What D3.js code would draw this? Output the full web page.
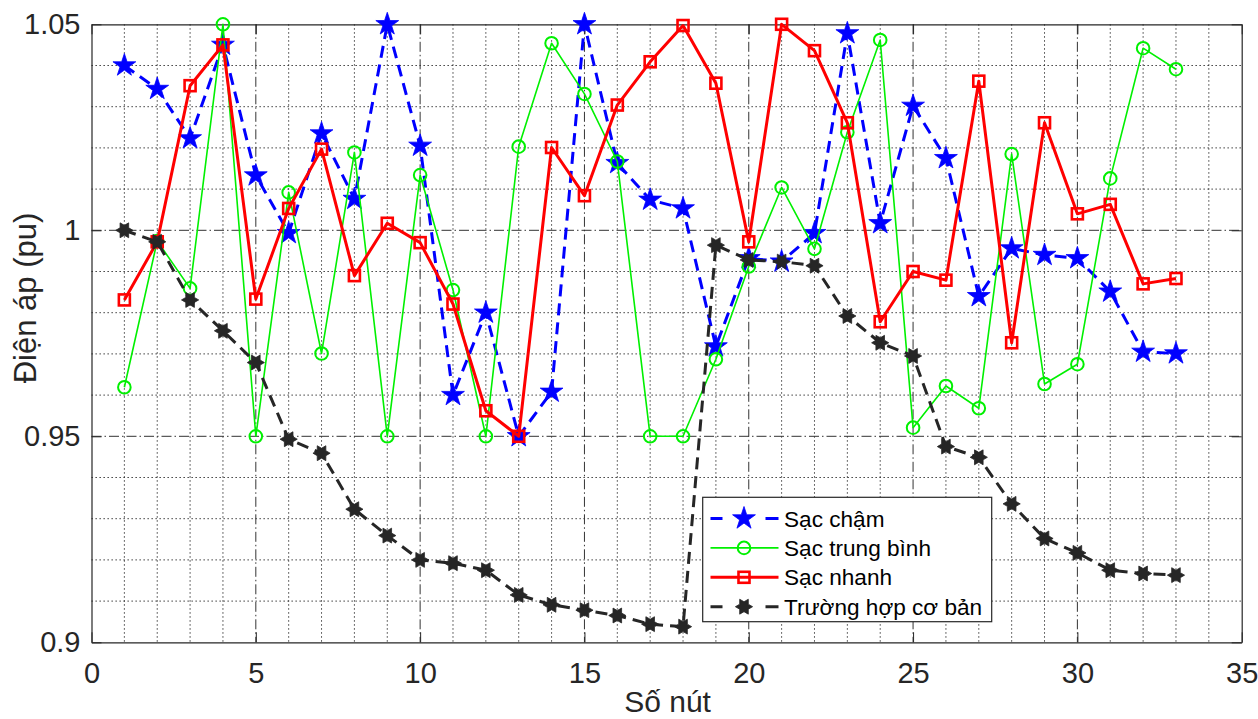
<!DOCTYPE html>
<html>
<head>
<meta charset="utf-8">
<script src="https://cdn.jsdelivr.net/npm/d3@7"></script>
<style>
  html, body { margin: 0; padding: 0; background: #fff; }
  svg { display: block; }
  text { font-family: "Liberation Sans", Arial, Helvetica, sans-serif; fill: #262626; }
</style>
</head>
<body>
<svg id="chart" width="1258" height="719"></svg>
<script>
// Node numbers and bus voltages (pu) for each charging scenario
const nodes = [1,2,3,4,5,6,7,8,9,10,11,12,13,14,15,16,17,18,19,20,21,22,23,24,25,26,27,28,29,30,31,32,33];

const slowCharge = [1.040, 1.0343, 1.0223, 1.045, 1.0133, 0.9993, 1.0235, 1.0076, 1.050, 1.0205,
  0.960, 0.980, 0.950, 0.9608, 1.050, 1.0163, 1.0074, 1.0053, 0.9718, 0.9932,
  0.9924, 0.9993, 1.0478, 1.0017, 1.0302, 1.0175, 0.984, 0.9956, 0.994, 0.9932,
  0.9851, 0.9705, 0.9701];

const mediumCharge = [0.9619, 0.9974, 0.9859, 1.050, 0.950, 1.0092, 0.9701, 1.0189, 0.950, 1.0134,
  0.9855, 0.950, 1.0203, 1.0454, 1.0331, 1.0167, 0.950, 0.950, 0.9687, 0.9912,
  1.0104, 0.9955, 1.0238, 1.0462, 0.9521, 0.9622, 0.9568, 1.0185, 0.9627, 0.9675,
  1.0126, 1.0442, 1.0391];

const fastCharge = [0.9831, 0.9972, 1.0351, 1.045, 0.9833, 1.0053, 1.0197, 0.989, 1.0017, 0.997,
  0.9821, 0.9562, 0.950, 1.0201, 1.0084, 1.0304, 1.0409, 1.0497, 1.0357, 0.9972,
  1.050, 1.0436, 1.0261, 0.9778, 0.990, 0.9879, 1.0362, 0.9727, 1.0261, 1.004,
  1.0063, 0.987, 0.9883];

const baseCase = [1.000, 0.9972, 0.9831, 0.9756, 0.9679, 0.9493, 0.9459, 0.9323, 0.9259, 0.920,
  0.9192, 0.9175, 0.9115, 0.9091, 0.9078, 0.9065, 0.9044, 0.9038, 0.9964, 0.9928,
  0.9924, 0.9914, 0.9792, 0.9727, 0.9695, 0.9475, 0.9449, 0.9336, 0.9252, 0.9217,
  0.9175, 0.9167, 0.9163];

const seriesNames = ["Sạc chậm", "Sạc trung bình", "Sạc nhanh", "Trường hợp cơ bản"];

const xTicks = [0, 5, 10, 15, 20, 25, 30, 35];
const yTicks = [0.9, 0.95, 1, 1.05];
const xMinor = d3.range(0, 36, 1);
const yMinor = d3.range(90, 106, 1).map(v => v / 100);

const xLabel = "Số nút";
const yLabel = "Điện áp (pu)";

// ---- layout ----
const svg = d3.select("#chart");
const plotLeft = 91.5, plotRight = 1241.7, plotTop = 24.3, plotBottom = 642.3;

const x = d3.scaleLinear().domain([0, 35]).range([plotLeft, plotRight]);
const y = d3.scaleLinear().domain([0.9, 1.05]).range([plotBottom, plotTop]);

// ---- marker shapes ----
function starPath(points, rOuter, rInner, startAngle) {
  const p = d3.path();
  for (let i = 0; i < points * 2; i++) {
    const r = i % 2 === 0 ? rOuter : rInner;
    const a = startAngle + i * Math.PI / points;
    const px = r * Math.cos(a), py = r * Math.sin(a);
    if (i === 0) p.moveTo(px, py); else p.lineTo(px, py);
  }
  p.closePath();
  return p.toString();
}
const pentagram = starPath(5, 12, 12 * 0.382, -Math.PI / 2);
const hexagram = starPath(6, 8.6, 8.6 / Math.sqrt(3), 0);

const series = [
  { name: seriesNames[0], values: slowCharge, color: "#0000ff", width: 3, dash: "12,7",
    marker: "pentagram" },
  { name: seriesNames[1], values: mediumCharge, color: "#00f000", width: 1.6, dash: null,
    marker: "circle" },
  { name: seriesNames[2], values: fastCharge, color: "#ff0000", width: 3, dash: null,
    marker: "square" },
  { name: seriesNames[3], values: baseCase, color: "#262626", width: 3, dash: "12,7",
    marker: "hexagram" }
];

function drawMarker(g, kind, color) {
  if (kind === "pentagram") {
    g.append("path").attr("d", pentagram).attr("fill", color).attr("stroke", color).attr("stroke-width", 0.8);
  } else if (kind === "hexagram") {
    g.append("path").attr("d", hexagram).attr("fill", color).attr("stroke", color).attr("stroke-width", 0.8);
  } else if (kind === "circle") {
    g.append("circle").attr("r", 6.3).attr("fill", "none").attr("stroke", color).attr("stroke-width", 2);
  } else if (kind === "square") {
    g.append("rect").attr("x", -5.5).attr("y", -5.5).attr("width", 11).attr("height", 11)
      .attr("fill", "none").attr("stroke", color).attr("stroke-width", 2.6);
  }
}

// ---- grid ----
const grid = svg.append("g");
grid.selectAll(".gx-minor").data(xMinor.filter(v => v % 5 !== 0)).join("line")
  .attr("x1", d => x(d)).attr("x2", d => x(d)).attr("y1", plotTop).attr("y2", plotBottom)
  .attr("stroke", "#222").attr("stroke-width", 1).attr("stroke-dasharray", "1.3,2.7");
grid.selectAll(".gy-minor").data(yMinor.filter(v => Math.round(v * 100) % 5 !== 0)).join("line")
  .attr("x1", plotLeft).attr("x2", plotRight).attr("y1", d => y(d)).attr("y2", d => y(d))
  .attr("stroke", "#222").attr("stroke-width", 1).attr("stroke-dasharray", "1.3,2.7");
grid.selectAll(".gx-major").data(xTicks.slice(1, -1)).join("line")
  .attr("x1", d => x(d)).attr("x2", d => x(d)).attr("y1", plotTop).attr("y2", plotBottom)
  .attr("stroke", "#333").attr("stroke-width", 1).attr("stroke-dasharray", "10,3,1.5,3");
grid.selectAll(".gy-major").data(yTicks.slice(1, -1)).join("line")
  .attr("x1", plotLeft).attr("x2", plotRight).attr("y1", d => y(d)).attr("y2", d => y(d))
  .attr("stroke", "#333").attr("stroke-width", 1).attr("stroke-dasharray", "10,3,1.5,3");

// ---- axes (ticks point inward) ----
const fmt = d3.format("~g");
function styleAxis(g) {
  g.attr("font-family", null).attr("font-size", null);
  g.select(".domain").attr("stroke", "#262626").attr("stroke-width", 1.2).attr("fill", "none");
  g.selectAll(".tick line").attr("stroke", "#262626").attr("stroke-width", 1);
  g.selectAll("text").attr("font-size", 29).attr("fill", "#262626");
}
svg.append("g").attr("transform", `translate(0,${plotBottom})`)
  .call(d3.axisBottom(x).tickValues(xTicks).tickFormat(fmt).tickSizeInner(-10).tickSizeOuter(0).tickPadding(20))
  .call(styleAxis);
svg.append("g").attr("transform", `translate(0,${plotTop})`)
  .call(d3.axisTop(x).tickValues(xTicks).tickFormat(() => "").tickSizeInner(-10).tickSizeOuter(0))
  .call(styleAxis);
svg.append("g").attr("transform", `translate(${plotLeft},0)`)
  .call(d3.axisLeft(y).tickValues(yTicks).tickFormat(fmt).tickSizeInner(-10).tickSizeOuter(0).tickPadding(11))
  .call(styleAxis);
svg.append("g").attr("transform", `translate(${plotRight},0)`)
  .call(d3.axisRight(y).tickValues(yTicks).tickFormat(() => "").tickSizeInner(-10).tickSizeOuter(0))
  .call(styleAxis);

// ---- axis titles ----
svg.append("text").attr("x", (plotLeft + plotRight) / 2 + 1).attr("y", 712)
  .attr("text-anchor", "middle").attr("font-size", 30).text(xLabel);
svg.append("text").attr("transform", "translate(36,298) rotate(-90)")
  .attr("text-anchor", "middle").attr("font-size", 31).text(yLabel);

// ---- series ----
const line = d3.line().x((d, i) => x(nodes[i])).y(d => y(d));
series.forEach(s => {
  const g = svg.append("g");
  g.append("path").datum(s.values).attr("d", line)
    .attr("fill", "none").attr("stroke", s.color).attr("stroke-width", s.width)
    .attr("stroke-dasharray", s.dash).attr("stroke-linejoin", "round");
  s.values.forEach((v, i) => {
    const m = g.append("g").attr("transform", `translate(${x(nodes[i])},${y(v)})`);
    drawMarker(m, s.marker, s.color);
  });
});

// ---- legend ----
const lg = svg.append("g");
const lgX = 702.7, lgY = 497.3, lgW = 289, lgH = 124.4;
lg.append("rect").attr("x", lgX).attr("y", lgY).attr("width", lgW).attr("height", lgH)
  .attr("fill", "#fff").attr("stroke", "#262626").attr("stroke-width", 1.2);
series.forEach((s, i) => {
  const cy = 518.5 + i * 29.4;
  lg.append("line").attr("x1", 710.5).attr("x2", 778.5).attr("y1", cy).attr("y2", cy)
    .attr("stroke", s.color).attr("stroke-width", s.width)
    .attr("stroke-dasharray", s.dash ? "12,43,13" : null);
  const m = lg.append("g").attr("transform", `translate(744,${cy})`);
  drawMarker(m, s.marker, s.color);
  lg.append("text").attr("x", 784).attr("y", cy + 8).attr("font-size", 22.6).style("fill", "#000").text(s.name);
});
</script>
</body>
</html>
